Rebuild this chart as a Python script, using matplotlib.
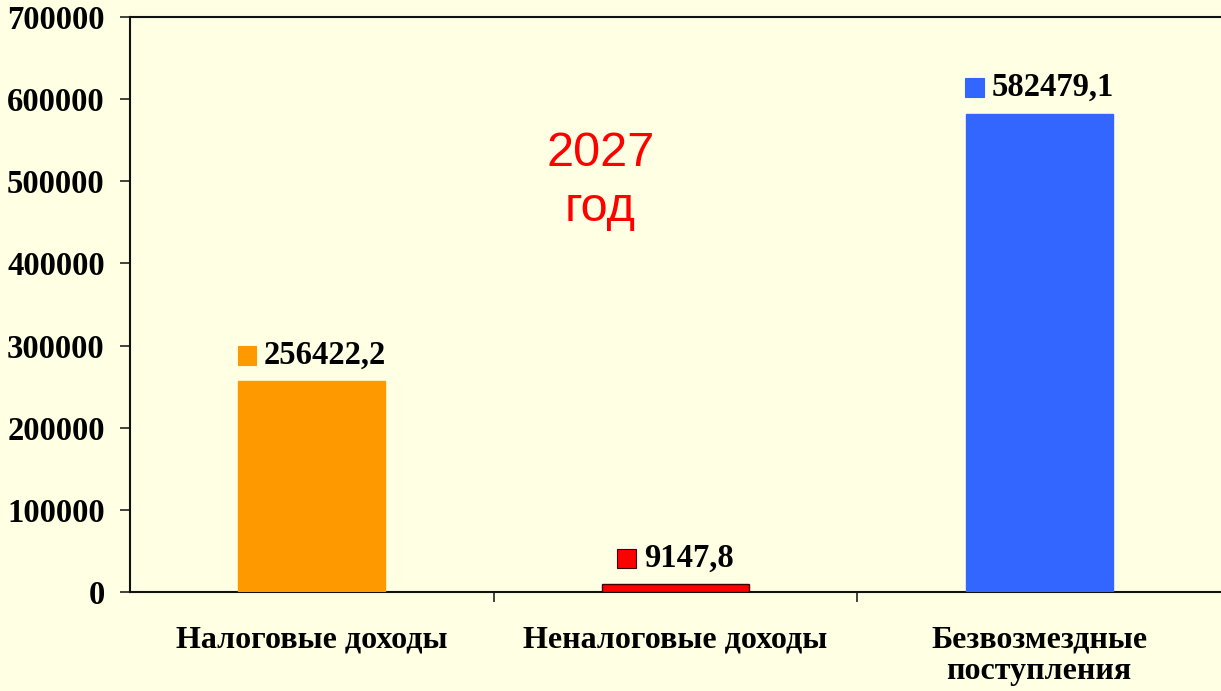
import matplotlib
matplotlib.use("Agg")
import matplotlib.pyplot as plt
from matplotlib.offsetbox import DrawingArea, TextArea, HPacker, AnnotationBbox
from matplotlib.patches import Rectangle

categories = ["Налоговые доходы", "Неналоговые доходы", "Безвозмездные\nпоступления"]
values = [256422.2, 9147.8, 582479.1]
value_labels = ["256422,2", "9147,8", "582479,1"]
colors = ["#FF9900", "#FF0000", "#3366FF"]
edges = ["#FF9900", "#400000", "#3366FF"]
yticks = [0, 100000, 200000, 300000, 400000, 500000, 600000, 700000]
title_text = "2027\nгод"

bg = "#FFFFE3"
fig = plt.figure(figsize=(12.21, 6.91), dpi=100, facecolor=bg)
ax = fig.add_axes([130/1221, 1-592/691, 1-130/1221, (592-17)/691])
ax.set_facecolor(bg)

x = list(range(len(categories)))
ax.bar(x, values, width=0.405, color=colors, edgecolor=edges, linewidth=1.0, zorder=3)

ax.set_xlim(-0.5, 2.5)
ax.set_ylim(0, 700000)
ax.set_yticks(yticks)
ax.set_yticklabels([str(v) for v in yticks], family="Liberation Serif",
                   fontweight="bold", fontsize=23.5)
ax.tick_params(axis="y", direction="out", length=7.2, width=1.2, pad=11, color="#222222")

ax.set_xticks(x)
ax.set_xticklabels(categories, family="Liberation Serif", fontweight="bold",
                   fontsize=23, va="top", linespacing=1.1)
ax.tick_params(axis="x", which="major", length=0, pad=24)
ax.set_xticks([0.5, 1.5], minor=True)
ax.tick_params(axis="x", which="minor", direction="out", length=7.2, width=1.2, color="#222222")

for s in ["left", "bottom", "top"]:
    ax.spines[s].set_linewidth(1.5)
    ax.spines[s].set_color("#111111")
ax.spines["right"].set_visible(False)

for xi, v, lab, c, e in zip(x, values, value_labels, colors, edges):
    da = DrawingArea(14, 14, 0, 0)
    da.add_artist(Rectangle((0, 0), 13.5, 13.5, facecolor=c, edgecolor=e, linewidth=0.8))
    ta = TextArea(lab, textprops=dict(family="Liberation Serif", fontweight="bold",
                                       fontsize=23.5, color="black"))
    box = HPacker(children=[da, ta], align="center", pad=0, sep=5)
    ab = AnnotationBbox(box, (xi, v), xybox=(0, 19), xycoords="data",
                        boxcoords="offset points", frameon=False,
                        box_alignment=(0.5, 0.5), annotation_clip=False)
    ax.add_artist(ab)

ax.text(0.431, 0.715, title_text, transform=ax.transAxes, ha="center", va="center",
        family="Liberation Sans", fontsize=35, color="#FF0000", linespacing=1.3)

fig.savefig("out.png", dpi=100, facecolor=bg)
